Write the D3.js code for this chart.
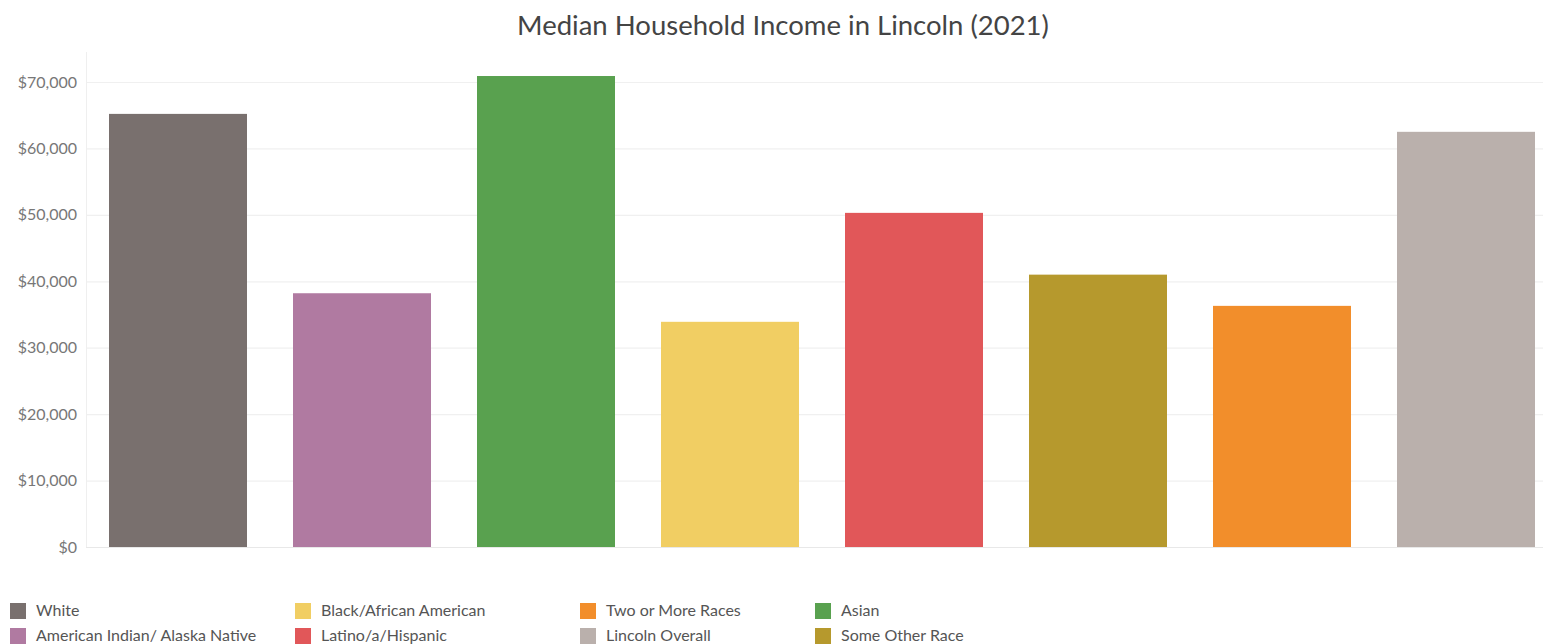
<!DOCTYPE html>
<html>
<head>
<meta charset="utf-8">
<script src="https://cdnjs.cloudflare.com/ajax/libs/d3/7.8.5/d3.min.js"></script>
<style>
  body { margin: 0; background: #fff; }
  text { font-family: Lato, "Open Sans", sans-serif; }
</style>
</head>
<body>
<svg id="chart" width="1543" height="644"></svg>
<script>
// data
var categories = ["White", "American Indian/ Alaska Native", "Asian", "Black/African American",
                  "Latino/a/Hispanic", "Some Other Race", "Two or More Races", "Lincoln Overall"];
var incomes = [65200, 38200, 70900, 33900, 50300, 41000, 36300, 62500];
var colors = ["#79706e", "#b07aa1", "#59a14f", "#f1ce63", "#e15759", "#b6992d", "#f28e2b", "#bab0ac"];
var tickValues = [0, 10000, 20000, 30000, 40000, 50000, 60000, 70000];
var legendOrder = ["White", "American Indian/ Alaska Native", "Black/African American", "Latino/a/Hispanic",
                   "Two or More Races", "Lincoln Overall", "Asian", "Some Other Race"];

var svg = d3.select("#chart");
var plotLeft = 86, plotRight = 1558, plotTop = 52, plotBottom = 547;

var x = d3.scaleBand()
    .domain(categories)
    .range([plotLeft, plotRight])
    .paddingInner(0.25)
    .paddingOuter(0.125);

var y = d3.scaleLinear()
    .domain([0, 70000])
    .range([plotBottom, 82]);

var color = d3.scaleOrdinal().domain(categories).range(colors);

// title
svg.append("text")
    .attr("x", 783)
    .attr("y", 35)
    .attr("text-anchor", "middle")
    .style("font-size", "27.5px")
    .style("fill", "#444")
    .text("Median Household Income in Lincoln (2021)");

// gridlines
svg.append("g")
    .selectAll("line")
    .data(tickValues)
    .enter().append("line")
    .attr("x1", plotLeft)
    .attr("x2", 1543)
    .attr("y1", function(d) { return y(d) + 0.5; })
    .attr("y2", function(d) { return y(d) + 0.5; })
    .style("stroke", function(d) { return d === 0 ? "#e8e8e8" : "#f0f0f0"; })
    .style("stroke-width", 1.2);

svg.append("line")
    .attr("x1", plotLeft + 0.5).attr("x2", plotLeft + 0.5)
    .attr("y1", plotTop).attr("y2", plotBottom)
    .style("stroke", "#efefef");

// y axis labels
var yAxis = d3.axisLeft(y)
    .tickValues(tickValues)
    .tickSize(0)
    .tickPadding(9)
    .tickFormat(function(d) { return "$" + d3.format(",")(d); });

var ag = svg.append("g")
    .attr("transform", "translate(" + plotLeft + ",0)")
    .call(yAxis);
ag.select(".domain").remove();
ag.selectAll("text")
    .style("font-family", "Lato, 'Open Sans', sans-serif")
    .style("font-size", "16px")
    .style("fill", "#777");

// bars
svg.append("g")
    .selectAll("rect")
    .data(categories)
    .enter().append("rect")
    .attr("x", function(d) { return x(d); })
    .attr("width", x.bandwidth())
    .attr("y", function(d, i) { return y(incomes[i]); })
    .attr("height", function(d, i) { return plotBottom - y(incomes[i]); })
    .style("fill", function(d) { return color(d); });

// legend: 4 columns, 2 rows, column-major
var colX = [10, 295, 580, 815];
var legend = svg.append("g")
    .selectAll("g")
    .data(legendOrder)
    .enter().append("g")
    .attr("transform", function(d, i) {
      return "translate(" + colX[Math.floor(i / 2)] + "," + (603 + (i % 2) * 25) + ")";
    });

legend.append("rect")
    .attr("width", 16)
    .attr("height", 16)
    .style("fill", function(d) { return color(d); });

legend.append("text")
    .attr("x", 26)
    .attr("y", 13)
    .style("font-size", "16px")
    .style("fill", "#555")
    .text(function(d) { return d; });
</script>
</body>
</html>
